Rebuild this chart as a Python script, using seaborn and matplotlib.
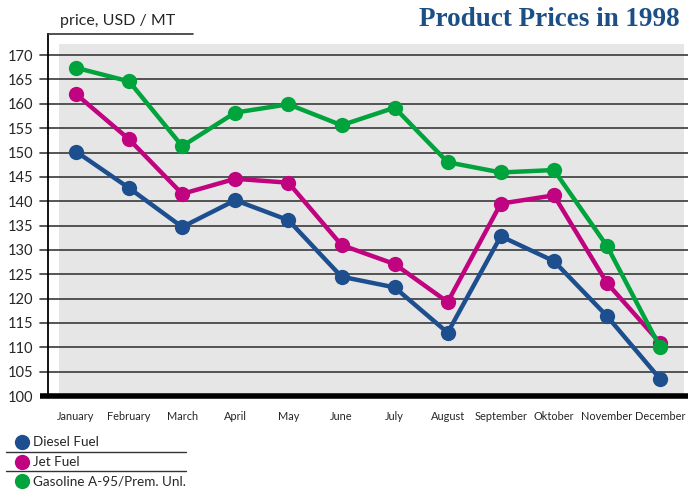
import matplotlib
matplotlib.use("Agg")
import matplotlib.pyplot as plt
from matplotlib.lines import Line2D
import seaborn as sns
import pandas as pd

months = ["January", "February", "March", "April", "May", "June", "July",
          "August", "September", "Oktober", "November", "December"]
diesel = [150.2, 142.7, 134.7, 140.2, 136.1, 124.5, 122.3, 113.0, 132.8, 127.7, 116.4, 103.5]
jet = [162.0, 152.7, 141.5, 144.6, 143.8, 131.0, 127.1, 119.3, 139.5, 141.2, 123.2, 110.9]
gasoline = [167.4, 164.6, 151.3, 158.2, 159.9, 155.6, 159.2, 148.0, 145.9, 146.4, 130.8, 110.0]
series_names = ["Diesel Fuel", "Jet Fuel", "Gasoline A-95/Prem. Unl."]
colors = ["#1d4f8f", "#c0047f", "#00a33c"]
yticks = list(range(100, 171, 5))

W, H = 688, 493
sns.set_style("white")
plt.rcParams["font.family"] = ["Lato", "DejaVu Sans"]

frames = []
for name, vals in zip(series_names, [diesel, jet, gasoline]):
    frames.append(pd.DataFrame({"x": range(len(months)), "price": vals, "series": name}))
df = pd.concat(frames)

fig = plt.figure(figsize=(W / 100, H / 100), dpi=100)
ax = fig.add_axes([48 / W, 1 - 396 / H, 1 - 48 / W, (396 - 34) / H])

# pixel helpers
px_per_x = 53.1
x0 = 76
def xd(px):
    return (px - x0) / px_per_x
ppu = 4.87
def yd(py):
    return 100 + (396 - py) / ppu

ax.set_xlim(xd(48), xd(688))
ax.set_ylim(100, yd(34))

# gray plot background
ax.axvspan(xd(59), xd(684), ymin=0, ymax=(yd(44) - 100) / (yd(34) - 100),
           color="#e6e6e6", zorder=0, lw=0)

# gridlines extending slightly left of the axis
for v in yticks[1:]:
    ax.plot([xd(40), xd(688)], [v, v], color="#3a3a3a", lw=1.2, zorder=1, clip_on=False)
ax.plot([xd(40), xd(688)], [100, 100], color="black", lw=4, zorder=5,
        clip_on=False, solid_capstyle="butt")

sns.lineplot(data=df, x="x", y="price", hue="series", palette=colors,
             marker="o", markersize=11, markeredgewidth=0, lw=3.2,
             legend=False, ax=ax, zorder=3)

for s in ["top", "right", "bottom"]:
    ax.spines[s].set_visible(False)
ax.spines["left"].set_color("black")
ax.spines["left"].set_linewidth(1.3)

ax.set_yticks(yticks)
ax.set_yticklabels([str(v) for v in yticks], fontsize=10.5)
ax.tick_params(axis="y", length=0, pad=10.5)

ax.set_xticks(range(len(months)))
ax.set_xticklabels(months, fontsize=7.9)
ax.set_xticks([i + 0.5 for i in range(len(months) - 1)], minor=True)
ax.tick_params(axis="x", which="major", length=0, pad=11)
ax.tick_params(axis="x", which="minor", length=11, width=1.1, color="#333333", direction="out")
ax.set_xlabel("")
ax.set_ylabel("")

# title and unit
fig.text(680 / W, 1 - 19 / H, "Product Prices in 1998", ha="right", va="center",
         fontsize=19.5, color="#1b4f85", family="Liberation Serif", fontweight="bold")
fig.text(60 / W, 1 - 21 / H, "price, USD / MT", ha="left", va="center", fontsize=11.5)
fig.add_artist(Line2D([48 / W, 193 / W], [1 - 34 / H, 1 - 34 / H], color="#333333", lw=1.2))

# legend
for i, (name, c) in enumerate(zip(series_names, colors)):
    py = 442 + 19.5 * i
    fig.add_artist(Line2D([22 / W], [1 - py / H], marker="o", markersize=11,
                          markeredgewidth=0, color=c, lw=0))
    fig.text(33 / W, 1 - py / H, name, ha="left", va="center", fontsize=9.7)
    if i < len(series_names) - 1:
        fig.add_artist(Line2D([6 / W, 186 / W], [1 - (py + 9.5) / H] * 2,
                              color="#333333", lw=1))

fig.savefig("out.png", dpi=100)
